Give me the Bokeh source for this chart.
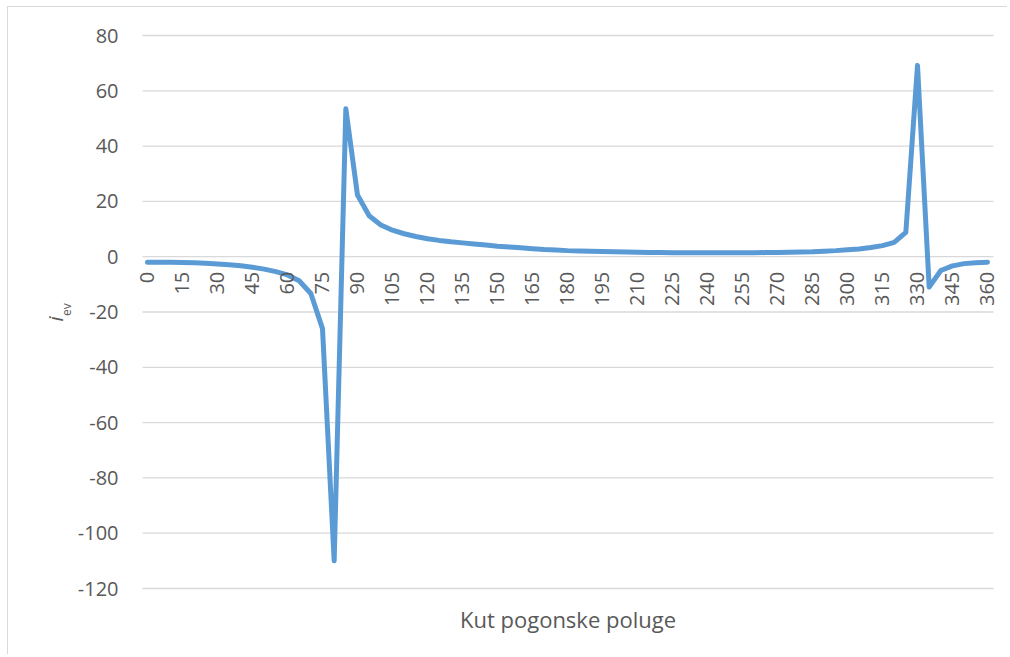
import math
from bokeh.plotting import figure
from bokeh.models import Range1d, ColumnDataSource
from bokeh.core.properties import value
from bokeh.embed import file_html
from bokeh.resources import INLINE

# ---- data ----
angles = list(range(0, 361, 5))
i_ev = [
    -2.0, -2.0, -2.0, -2.1, -2.2, -2.4, -2.6, -2.9, -3.3, -3.8,   # 0..45
    -4.5, -5.4, -6.6, -8.7, -13.3, -26.0, -110.0, 53.5, 22.3, 14.8,  # 50..95
    11.5, 9.6, 8.3, 7.3, 6.5, 5.9, 5.4, 5.0, 4.6, 4.2,           # 100..145
    3.8, 3.5, 3.2, 2.9, 2.6, 2.4, 2.2, 2.1, 2.0, 1.9,            # 150..195
    1.8, 1.7, 1.6, 1.5, 1.5, 1.4, 1.4, 1.4, 1.4, 1.4,            # 200..245
    1.4, 1.4, 1.4, 1.5, 1.5, 1.6, 1.7, 1.8, 2.0, 2.2,            # 250..295
    2.5, 2.8, 3.3, 4.0, 5.2, 8.8, 69.2, -11.0, -5.0, -3.3,       # 300..345
    -2.5, -2.2, -2.0,                                            # 350..360
]
tick_angles = list(range(0, 361, 15))
tick_labels = [str(a) for a in tick_angles]
y_ticks = list(range(-120, 81, 20))
y_labels = [str(v) for v in y_ticks]
x_title = "Kut pogonske poluge"
y_title_main = "i"
y_title_sub = "ev"

FONT = "Open Sans"
TXT = "#595959"

# plot-area edges (data units) of the category axis
X_LEFT, X_RIGHT = -2.14, 362.57

p = figure(width=1000, height=648, output_backend="svg", toolbar_location=None,
           x_range=Range1d(-59.57, 369.0), y_range=Range1d(-144.23, 90.13),
           min_border=0)
p.styles = {"margin-left": "8px", "margin-top": "7px",
            "box-shadow": "-1px -1px 0 0 #d9d9d9"}
p.outline_line_color = None
p.background_fill_color = "white"
p.border_fill_color = "white"
p.xaxis.visible = False
p.yaxis.visible = False
p.xgrid.visible = False
p.ygrid.visible = False

# horizontal gridlines
p.segment(x0=X_LEFT, x1=X_RIGHT, y0=y_ticks, y1=y_ticks,
          line_color="#d9d9d9", line_width=1.3)

# y tick labels
ysrc = ColumnDataSource(dict(y=y_ticks, t=y_labels))
p.text(x=X_LEFT, y="y", text="t", source=ysrc, x_offset=-24,
       text_align="right", text_baseline="middle",
       text_font=value(FONT), text_font_size="20px", text_color=TXT)

# data line
src = ColumnDataSource(dict(x=angles, y=i_ev))
p.line("x", "y", source=src, line_color="#5b9bd5", line_width=5,
       line_join="round", line_cap="round")

# category labels at y = 0, rotated
lab_src = ColumnDataSource(dict(x=tick_angles, y=[0] * len(tick_angles), t=tick_labels))
p.text("x", "y", text="t", source=lab_src, angle=math.pi / 2,
       text_align="right", text_baseline="middle", y_offset=15,
       text_font=value(FONT), text_font_size="20px", text_color=TXT)

# x-axis title
p.text(x=[(X_LEFT + X_RIGHT) / 2], y=[-120], text=[x_title], y_offset=30,
       text_align="center", text_baseline="alphabetic",
       text_font=value(FONT), text_font_size="22px", text_color=TXT)

# y-axis title  i_ev
p.text(x=[-39.4], y=[-22.5], text=[y_title_main], angle=math.pi / 2,
       text_align="center", text_baseline="alphabetic",
       text_font=value(FONT), text_font_size="20px", text_font_style="italic",
       text_color=TXT)
p.text(x=[-34.5], y=[-19.1], text=[y_title_sub], angle=math.pi / 2,
       text_align="center", text_baseline="alphabetic",
       text_font=value(FONT), text_font_size="12px", text_color=TXT)

open("out.html", "w").write(file_html(p, INLINE))
